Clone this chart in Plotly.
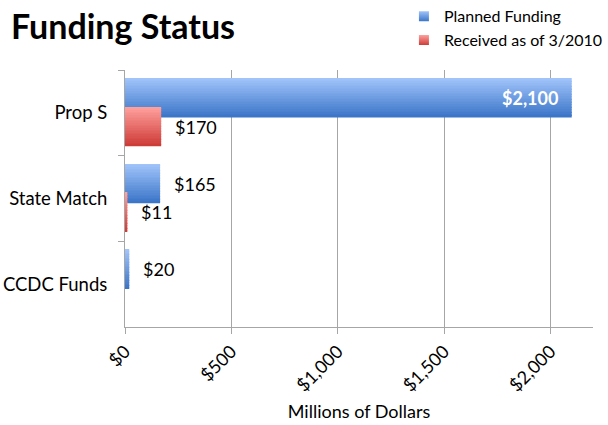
import plotly.graph_objects as go

categories = ["Prop S", "State Match", "CCDC Funds"]
planned = [2100, 165, 20]
received = [170, 11, 0]
series_names = ["Planned Funding", "Received as of 3/2010"]
x_ticks = [0, 500, 1000, 1500, 2000]
x_tick_labels = ["$0", "$500", "$1,000", "$1,500", "$2,000"]

FONT = "Lato, 'Open Sans', sans-serif"
GRID = "#a6a6a6"

BLUE_TOP, BLUE_BOTTOM = (160, 195, 250), (60, 118, 200)
RED_TOP, RED_BOTTOM = (255, 160, 157), (206, 60, 56)


def mix(c1, c2, t):
    return "rgb(%d,%d,%d)" % tuple(round(a + (b - a) * t) for a, b in zip(c1, c2))


def gradient_bars(fig, values, top, bottom, offset, width, layers=24):
    # fake the excel gradient: thin bars stacked across the bar thickness
    step = width / layers
    for k in range(layers):
        fig.add_trace(go.Bar(
            y=categories, x=values, orientation="h",
            offset=offset + k * step, width=step * 1.1 if k < layers - 1 else step,
            marker=dict(color=mix(top, bottom, k / (layers - 1)), line=dict(width=0)),
            showlegend=False, hoverinfo="skip",
        ))


fig = go.Figure()

bar_w = 0.455
gradient_bars(fig, planned, BLUE_TOP, BLUE_BOTTOM, -0.40, bar_w)
gradient_bars(fig, received, RED_TOP, RED_BOTTOM, -0.065, bar_w)

# legend entries
for name, top, bottom in [(series_names[0], BLUE_TOP, BLUE_BOTTOM),
                          (series_names[1], RED_TOP, RED_BOTTOM)]:
    fig.add_trace(go.Scatter(
        x=[None], y=[None], mode="markers", name=name,
        marker=dict(symbol="square", size=10, color=mix(top, top, 0),
                    gradient=dict(type="vertical", color=mix(bottom, bottom, 0))),
    ))

# data labels
annotations = []
xmax = 2200
for values, offset in [(planned, -0.40), (received, -0.065)]:
    for i, v in enumerate(values):
        if v <= 0:
            continue
        yc = i + offset + bar_w / 2
        label = "${:,}".format(v)
        if v > xmax / 2:
            annotations.append(dict(x=v, y=yc, xref="x", yref="y", text="<b>%s</b>" % label,
                                    showarrow=False, xanchor="right", xshift=-12,
                                    font=dict(family=FONT, size=18, color="white")))
        else:
            annotations.append(dict(x=v, y=yc, xref="x", yref="y", text=label,
                                    showarrow=False, xanchor="left", xshift=12,
                                    font=dict(family=FONT, size=18, color="black")))

fig.update_layout(
    width=608, height=425,
    margin=dict(l=125, r=15, t=70, b=98, autoexpand=False),
    paper_bgcolor="white", plot_bgcolor="white",
    barmode="overlay",
    font=dict(family=FONT, color="black", size=17),
    title=dict(text="<b>Funding Status</b>", xref="container", yref="container",
               x=11 / 608, xanchor="left", y=1 - 27 / 425, yanchor="middle",
               font=dict(family=FONT, size=34, color="black")),
    legend=dict(x=0.596, xanchor="left", y=1.275, yanchor="top",
                font=dict(family=FONT, size=16, color="black"),
                tracegroupgap=0, itemwidth=30, bgcolor="rgba(0,0,0,0)"),
    annotations=annotations,
    xaxis=dict(range=[0, xmax], tickvals=x_ticks, ticktext=x_tick_labels, tickangle=-45,
               showgrid=True, gridcolor=GRID, gridwidth=1, zeroline=False,
               showline=True, linecolor=GRID, ticks="outside", ticklen=6, tickcolor=GRID,
               tickfont=dict(size=18), automargin=False,
               title=dict(text="Millions of Dollars", font=dict(size=18), standoff=10)),
    yaxis=dict(range=[2.5, -0.5], showgrid=False, zeroline=False,
               showline=True, linecolor=GRID, ticks="outside", tickson="boundaries",
               ticklen=6, tickcolor=GRID, ticklabelstandoff=13, automargin=False,
               tickfont=dict(size=18.5)),
)

fig.write_html("out.html", config={"displayModeBar": False},
               post_script="document.body.style.margin='0';")
